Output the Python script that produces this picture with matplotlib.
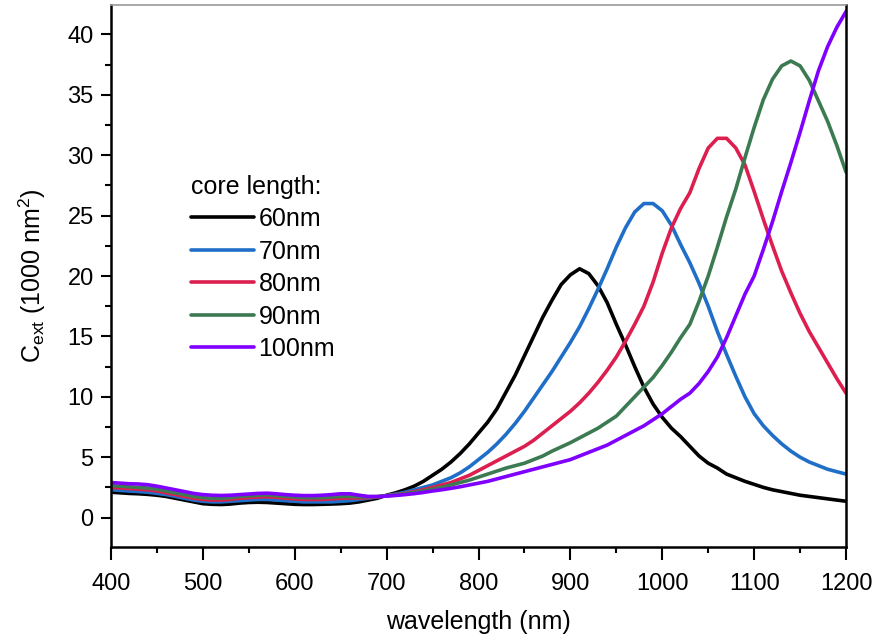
import matplotlib
matplotlib.use("Agg")
import matplotlib.pyplot as plt
from matplotlib.ticker import MultipleLocator

plt.rcParams['font.family'] = ['Liberation Sans', 'DejaVu Sans']

wavelength = list(range(400, 1201, 10))

c60 = [2.1, 2.05, 2.0, 1.97, 1.92, 1.85, 1.75, 1.6, 1.45, 1.3,
       1.15, 1.1, 1.08, 1.12, 1.2, 1.25, 1.27, 1.25, 1.2, 1.15,
       1.1, 1.08, 1.08, 1.1, 1.12, 1.15, 1.2, 1.3, 1.45, 1.6,
       1.85, 2.05, 2.3, 2.6, 3.0, 3.5, 4.0, 4.6, 5.3, 6.1,
       7.0, 7.9, 9.0, 10.4, 11.8, 13.4, 15.0, 16.6, 18.0, 19.3,
       20.1, 20.6, 20.2, 19.2, 17.8, 16.0, 14.3, 12.5, 10.8, 9.4,
       8.3, 7.4, 6.7, 5.9, 5.1, 4.5, 4.1, 3.6, 3.3, 3.0,
       2.75, 2.5, 2.3, 2.15, 2.0, 1.85, 1.75, 1.65, 1.55, 1.45,
       1.35]

c70 = [2.3, 2.25, 2.2, 2.15, 2.1, 2.0, 1.9, 1.75, 1.6, 1.45,
       1.35, 1.3, 1.3, 1.35, 1.4, 1.45, 1.5, 1.5, 1.45, 1.4,
       1.35, 1.3, 1.3, 1.3, 1.3, 1.35, 1.4, 1.5, 1.6, 1.72,
       1.82, 1.95, 2.1, 2.3, 2.5, 2.7, 3.0, 3.3, 3.7, 4.2,
       4.8, 5.4, 6.1, 6.9, 7.8, 8.8, 9.9, 11.0, 12.1, 13.3,
       14.5, 15.8, 17.3, 18.9, 20.6, 22.4, 24.0, 25.3, 26.0, 26.0,
       25.4, 24.2, 22.6, 21.1, 19.4, 17.5, 15.4, 13.5, 11.7, 10.0,
       8.6, 7.6, 6.8, 6.1, 5.5, 5.0, 4.6, 4.3, 4.0, 3.8,
       3.6]

c80 = [2.5, 2.45, 2.4, 2.35, 2.3, 2.2, 2.05, 1.9, 1.75, 1.6,
       1.5, 1.45, 1.45, 1.5, 1.6, 1.65, 1.7, 1.72, 1.68, 1.6,
       1.55, 1.5, 1.5, 1.5, 1.55, 1.6, 1.62, 1.62, 1.65, 1.72,
       1.8, 1.9, 2.0, 2.15, 2.3, 2.5, 2.7, 2.9, 3.2, 3.5,
       3.9, 4.3, 4.7, 5.1, 5.5, 5.9, 6.4, 7.0, 7.6, 8.2,
       8.8, 9.5, 10.3, 11.2, 12.2, 13.3, 14.6, 16.0, 17.5, 19.5,
       21.9, 24.0, 25.6, 26.9, 28.9, 30.6, 31.4, 31.4, 30.6, 29.2,
       27.0, 24.7, 22.5, 20.4, 18.6, 16.9, 15.4, 14.1, 12.8, 11.5,
       10.3]

c90 = [2.65, 2.6, 2.55, 2.5, 2.45, 2.35, 2.2, 2.05, 1.9, 1.75,
       1.65, 1.6, 1.6, 1.65, 1.75, 1.8, 1.85, 1.88, 1.82, 1.75,
       1.7, 1.65, 1.65, 1.65, 1.7, 1.75, 1.75, 1.72, 1.72, 1.74,
       1.8, 1.88, 1.97, 2.08, 2.2, 2.35, 2.5, 2.7, 2.9, 3.1,
       3.35, 3.6, 3.85, 4.1, 4.3, 4.5, 4.8, 5.1, 5.5, 5.85,
       6.2, 6.6, 7.0, 7.4, 7.9, 8.4, 9.2, 10.0, 10.8, 11.6,
       12.6, 13.7, 14.9, 16.0, 17.9, 20.0, 22.4, 24.9, 27.2, 29.8,
       32.3, 34.6, 36.3, 37.4, 37.8, 37.4, 36.2, 34.5, 32.8, 30.8,
       28.6]

c100 = [2.9, 2.85, 2.8, 2.78, 2.72, 2.6, 2.45, 2.3, 2.15, 2.0,
        1.9, 1.85, 1.83, 1.85, 1.9, 1.95, 2.0, 2.02, 1.97, 1.9,
        1.85, 1.82, 1.82, 1.85, 1.9, 1.97, 1.97, 1.85, 1.75, 1.74,
        1.78, 1.83, 1.9, 1.98, 2.08, 2.2, 2.3, 2.42, 2.55, 2.7,
        2.85, 3.0, 3.2, 3.4, 3.6, 3.8, 4.0, 4.2, 4.4, 4.6,
        4.8, 5.1, 5.4, 5.7, 6.0, 6.4, 6.8, 7.2, 7.6, 8.1,
        8.6, 9.2, 9.8, 10.3, 11.1, 12.1, 13.3, 14.9, 16.7, 18.5,
        20.0, 22.2, 24.5, 27.0, 29.4, 31.9, 34.5, 37.0, 39.0, 40.6,
        41.9]

labels = ["60nm", "70nm", "80nm", "90nm", "100nm"]
colors = ["#000000", "#1f6fc8", "#dc1f4f", "#3c7a52", "#8000ff"]
series = [c60, c70, c80, c90, c100]

fig = plt.figure(figsize=(8.74, 6.4), dpi=100)
ax = fig.add_axes([0.127, 0.146, 0.841, 0.846])

for vals, lab, col in zip(series, labels, colors):
    ax.plot(wavelength, vals, color=col, lw=2.6, label=lab, solid_capstyle='round')

ax.set_xlim(400, 1200)
ax.set_ylim(-2.4, 42.43)
ax.xaxis.set_major_locator(MultipleLocator(100))
ax.xaxis.set_minor_locator(MultipleLocator(50))
ax.yaxis.set_major_locator(MultipleLocator(5))
ax.yaxis.set_minor_locator(MultipleLocator(2.5))
ax.tick_params(which='both', direction='out', width=1.5, labelsize=17, top=False, right=False)
ax.tick_params(which='major', length=7.5)
ax.tick_params(which='minor', length=4)
ax.tick_params(axis='x', which='major', length=9, pad=10)
ax.tick_params(axis='y', which='major', pad=5)
for s in ['left', 'bottom', 'right']:
    ax.spines[s].set_linewidth(1.8)
ax.spines['top'].set_color('#999999')
ax.spines['top'].set_linewidth(1.2)

ax.set_xlabel("wavelength (nm)", fontsize=18, labelpad=11)
ax.set_ylabel(r"C$_\mathregular{ext}$ (1000 nm$^\mathregular{2}$)", fontsize=18, labelpad=14)

leg = ax.legend(title="core length:", loc='upper left', bbox_to_anchor=(0.109, 0.687),
                frameon=False, fontsize=18, title_fontsize=18, alignment='left',
                handlelength=2.5, handletextpad=0.2, labelspacing=0.34,
                borderpad=0, borderaxespad=0)

fig.savefig("out.png", dpi=100)
